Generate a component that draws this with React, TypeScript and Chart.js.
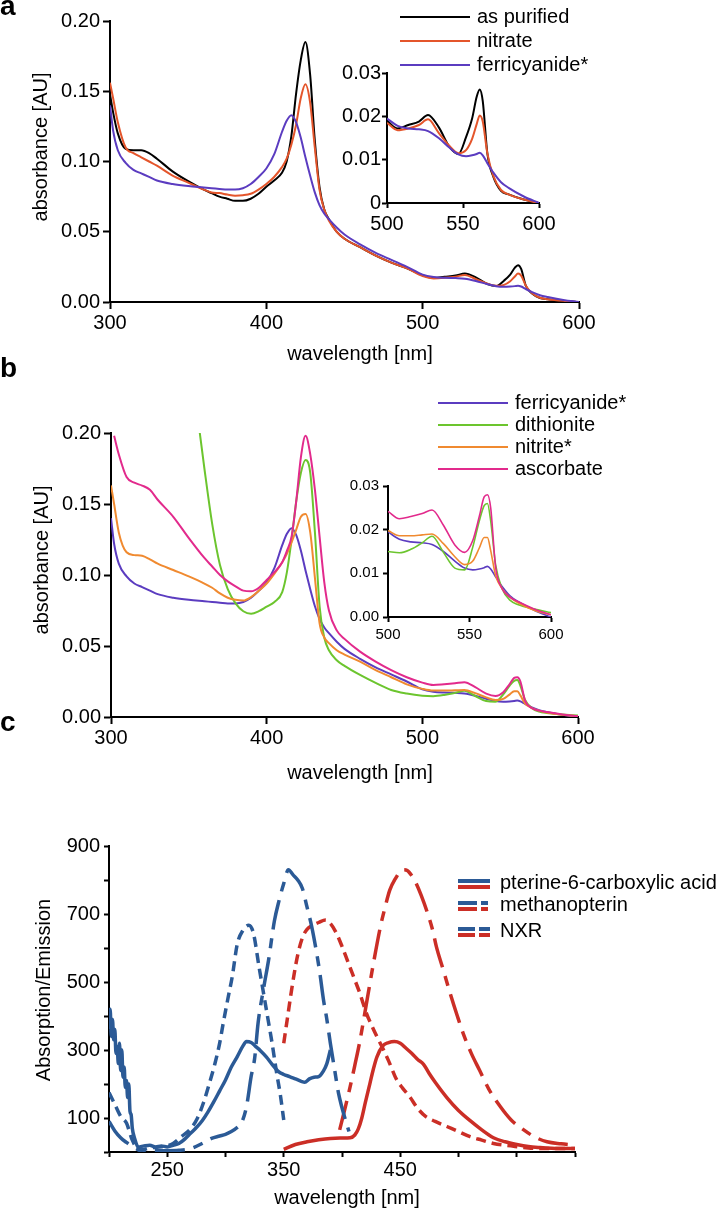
import React, { useEffect, useRef } from "react";
import { Chart, registerables } from "chart.js";
Chart.register(...registerables);

const FONT = "'Liberation Sans', Arial, Helvetica, sans-serif";

// ---------- Panels a & b : wavelength grid (nm) ----------
const WL_AB = [300, 302, 305, 310, 315, 320, 325, 330, 340, 350,
  360, 365, 370, 375, 380, 385, 390, 395, 400, 405,
  410, 413, 416, 419, 422, 425, 428, 431, 434, 437,
  440, 445, 450, 460, 470, 480, 490, 500, 507, 514,
  521, 527, 534, 541, 547, 552, 556, 559, 561, 563,
  566, 570, 575, 580, 590, 600];

// panel a
const A_AS_PURIFIED = [0.148, 0.135, 0.120, 0.109, 0.108, 0.108, 0.106, 0.102, 0.093, 0.086,
  0.080, 0.0775, 0.075, 0.0735, 0.072, 0.072, 0.0735, 0.077, 0.082, 0.0865,
  0.092, 0.100, 0.118, 0.148, 0.172, 0.185, 0.162, 0.115, 0.082, 0.066,
  0.059, 0.050, 0.045, 0.039, 0.033, 0.028, 0.024, 0.019, 0.0172, 0.018,
  0.0188, 0.0203, 0.0175, 0.013, 0.0113, 0.0152, 0.0195, 0.0245, 0.0262, 0.0235,
  0.0115, 0.006, 0.0028, 0.002, 0.0008, 0.0];
const A_NITRATE = [0.156, 0.145, 0.128, 0.110, 0.106, 0.103, 0.100, 0.097, 0.090, 0.085,
  0.080, 0.078, 0.0775, 0.0765, 0.0757, 0.076, 0.077, 0.080, 0.084, 0.089,
  0.096, 0.102, 0.112, 0.126, 0.145, 0.155, 0.142, 0.110, 0.080, 0.066,
  0.058, 0.050, 0.045, 0.039, 0.033, 0.028, 0.024, 0.0185, 0.0168, 0.0172,
  0.018, 0.0193, 0.0162, 0.0132, 0.0115, 0.0122, 0.0148, 0.0182, 0.0202, 0.0188,
  0.0115, 0.0062, 0.003, 0.002, 0.0008, 0.0];
// ferricyanide* (shown in a and b)
const FERRICYANIDE = [0.140, 0.122, 0.108, 0.099, 0.094, 0.0915, 0.089, 0.0865, 0.084, 0.0825,
  0.0815, 0.081, 0.0805, 0.080, 0.080, 0.081, 0.084, 0.089, 0.095, 0.105,
  0.121, 0.129, 0.133, 0.128, 0.117, 0.103, 0.090, 0.078, 0.069, 0.063,
  0.059, 0.053, 0.048, 0.041, 0.035, 0.030, 0.025, 0.0195, 0.0178, 0.0172,
  0.017, 0.0166, 0.015, 0.0128, 0.0112, 0.0108, 0.011, 0.0113, 0.0116, 0.011,
  0.0092, 0.007, 0.0048, 0.0035, 0.0015, 0.0];
// panel b
const B_DITHIONITE = [null, null, null, null, null, null, null, null, null, 0.26,
  0.175, 0.136, 0.107, 0.090, 0.080, 0.0745, 0.0727, 0.0745, 0.0777, 0.081,
  0.088, 0.102, 0.125, 0.152, 0.172, 0.181, 0.172, 0.130, 0.078, 0.056,
  0.047, 0.040, 0.036, 0.0296, 0.024, 0.019, 0.0165, 0.015, 0.0147, 0.0155,
  0.017, 0.0185, 0.0148, 0.0112, 0.0108, 0.016, 0.022, 0.0255, 0.026, 0.022,
  0.012, 0.0065, 0.0038, 0.0028, 0.0018, 0.001];
const B_NITRITE = [0.163, 0.150, 0.130, 0.116, 0.114, 0.1135, 0.111, 0.108, 0.1035, 0.099,
  0.094, 0.091, 0.087, 0.084, 0.0825, 0.082, 0.0845, 0.089, 0.094, 0.101,
  0.109, 0.115, 0.123, 0.132, 0.141, 0.143, 0.130, 0.098, 0.066, 0.056,
  0.052, 0.047, 0.044, 0.039, 0.033, 0.028, 0.023, 0.0198, 0.0186, 0.0186,
  0.0188, 0.019, 0.0168, 0.0138, 0.012, 0.0128, 0.0158, 0.0182, 0.0182, 0.0152,
  0.0095, 0.0065, 0.0045, 0.0032, 0.0015, 0.0005];
const B_ASCORBATE = [null, 0.198, 0.185, 0.169, 0.165, 0.163, 0.160, 0.153, 0.141, 0.126,
  0.112, 0.106, 0.100, 0.0955, 0.092, 0.089, 0.0885, 0.091, 0.0965, 0.102,
  0.109, 0.117, 0.127, 0.152, 0.183, 0.198, 0.185, 0.160, 0.127, 0.095,
  0.075, 0.061, 0.055, 0.046, 0.039, 0.033, 0.028, 0.0242, 0.0225, 0.023,
  0.0237, 0.0245, 0.021, 0.0165, 0.0148, 0.0175, 0.023, 0.0275, 0.028, 0.025,
  0.0115, 0.0065, 0.0045, 0.0035, 0.0018, 0.0005];

// ---------- Panel c ----------
const C_PT_ABS_WL = [200, 201, 202, 203, 204, 205, 206, 207, 208, 209, 210, 211, 212, 213, 214, 215, 216, 217, 218, 219, 220, 222, 225,
  230, 235, 240, 245, 250, 255, 260, 265, 270, 275, 280, 285, 290, 295, 300, 305, 310, 315,
  318, 322, 326, 330, 335, 340, 345, 350, 355, 360, 365, 368, 372, 376, 380, 384, 387, 390];
const C_PT_ABS = [360, 420, 340, 390, 330, 360, 290, 310, 260, 320, 240, 300, 220, 250, 190, 210, 160, 200, 120, 110, 70, 40, 15,
  18, 20, 15, 18, 15, 20, 25, 38, 55, 72, 92, 118, 148, 180, 212, 250, 280, 312,
  325, 322, 310, 298, 280, 258, 238, 228, 222, 215, 208, 205, 215, 220, 222, 238, 260, 300];
const C_MP_ABS_WL = [200, 205, 210, 215, 220, 225, 230, 240, 250, 260, 270, 280, 288, 295, 300, 305, 310, 314, 318,
  322, 325, 328, 333, 337, 342, 346, 350, 354, 358, 362, 366, 370, 374, 378, 381, 384, 387, 390, 394, 397, 400, 403, 406];
const C_MP_ABS = [90, 62, 42, 28, 16, 8, 5, 4, 4, 5, 10, 25, 40, 47, 52, 60, 72, 88, 133,
  222, 275, 380, 487, 565, 680, 740, 790, 830, 815, 800, 775, 720, 663, 590, 526, 450, 390, 320, 235, 173, 130, 94, 60];
const C_NXR_ABS_WL = [200, 205, 210, 215, 220, 226, 235, 245, 255, 262, 270, 276, 281, 286, 291, 295,
  298, 302, 306, 310, 315, 320, 324, 329, 333, 336, 340, 344, 347, 350];
const C_NXR_ABS = [175, 140, 105, 85, 35, 5, 12, 15, 25, 45, 68, 100, 144, 200, 261, 320,
  378, 450, 520, 610, 652, 667, 643, 540, 460, 400, 320, 230, 170, 94];
const C_PT_EM_WL = [350, 360, 370, 380, 390, 400, 407, 411, 414, 417, 420, 424, 427, 430, 435, 440, 445, 450, 455, 460, 465, 470, 475, 480,
  490, 500, 510, 520, 530, 540, 550, 560, 570, 580, 590, 600];
const C_PT_EM = [8, 22, 30, 36, 40, 41, 42, 50, 68, 100, 145, 202, 245, 280, 312, 322, 325, 320, 305, 290, 272, 258, 230, 205,
  160, 122, 92, 65, 42, 30, 22, 16, 13, 11, 10, 10];
const C_NXR_EM_WL = [350, 353, 356, 359, 362, 366, 370, 375, 380, 386, 390, 395, 400, 405, 410, 415, 421, 426, 430, 435, 440, 447,
  452, 458, 465, 472, 480, 490, 500, 510, 520, 530, 545, 560, 580, 600];
const C_NXR_EM = [320, 390, 460, 525, 580, 630, 655, 667, 675, 682, 672, 645, 605, 560, 515, 470, 408, 368, 339, 305, 268, 212,
  188, 163, 128, 104, 90, 75, 60, 45, 35, 25, 18, 12, 10, 10];
const C_MP_EM_WL = [398, 402, 407, 411, 415, 421, 427, 433, 437, 441, 446, 450, 453, 456, 460, 463, 468, 473, 478, 481, 487, 493,
  499, 504, 511, 518, 526, 536, 545, 556, 565, 576, 588, 600];
const C_MP_EM = [65, 120, 192, 255, 320, 437, 555, 663, 720, 770, 805, 825, 830, 828, 812, 795, 755, 707, 650, 604, 535, 465,
  400, 349, 290, 241, 185, 133, 95, 65, 45, 30, 24, 20];

const C_X_LABELS = [250, 350, 450];
const C_Y_LABELS = [100, 300, 500, 700, 900];

const A_LEGEND = ["as purified", "nitrate", "ferricyanide*"];
const B_LEGEND = ["ferricyanide*", "dithionite", "nitrite*", "ascorbate"];
const C_LEGEND = ["pterine-6-carboxylic acid", "methanopterin", "NXR"];

// ---------- styles ----------
const COL_BLACK = "#000000";
const COL_NITRATE = "#e4552b";
const COL_FERRI = "#5b3cc0";
const COL_DITHIO = "#6cc52e";
const COL_NITRITE = "#f08a30";
const COL_ASCORB = "#e22a8c";
const COL_BLUE = "#2b5a96";
const COL_RED = "#cb2e26";
const DASH_DOT = [30, 9, 10, 9];
const DASHED = [10, 6];

function pts(xs: number[], ys: (number | null)[], minX = -Infinity) {
  const out: any[] = [];
  xs.forEach((x, i) => { if (x >= minX) out.push({ x, y: ys[i] }); });
  return out;
}

function line(data: any[], color: string, width: number, dash: number[] = [], order = 0) {
  return {
    data, borderColor: color, borderWidth: width, borderDash: dash,
    pointRadius: 0, fill: false, cubicInterpolationMode: "monotone", spanGaps: false, order,
  };
}

type Spec = {
  left: number; top: number; width: number; height: number;
  area: [number, number, number, number];
  x: { min: number; max: number; step: number; fmt?: (v: number) => string };
  y: { min: number; max: number; step: number; fmt?: (v: number) => string };
  font: number; tickLen: number; xPad: number; yPad: number; axisWidth: number;
  datasets: any[];
};

function buildConfig(s: Spec): any {
  const [l, t, r, b] = s.area;
  const axisCommon = (tickFmt: any, pad: number, step: number) => ({
    type: "linear",
    ticks: {
      stepSize: step, autoSkip: false, maxRotation: 0, padding: pad, color: "#000",
      font: { family: FONT, size: s.font },
      callback: tickFmt,
    },
    grid: { display: true, drawOnChartArea: false, drawTicks: true, tickLength: s.tickLen, tickWidth: s.axisWidth, tickColor: "#000" },
    border: { display: true, color: "#000", width: s.axisWidth },
  });
  const xAxis: any = axisCommon((v: number) => (s.x.fmt ? s.x.fmt(v) : String(v)), s.xPad, s.x.step);
  xAxis.min = s.x.min; xAxis.max = s.x.max;
  xAxis.afterFit = (ax: any) => { ax.height = s.top + s.height - b; };
  const yAxis: any = axisCommon((v: number) => (s.y.fmt ? s.y.fmt(v) : String(v)), s.yPad, s.y.step);
  yAxis.min = s.y.min; yAxis.max = s.y.max;
  yAxis.afterFit = (ax: any) => { ax.width = l - s.left; };
  return {
    type: "line",
    data: { datasets: s.datasets },
    options: {
      animation: false, responsive: false, maintainAspectRatio: false, devicePixelRatio: 1,
      layout: { padding: { left: 0, top: t - s.top, right: s.left + s.width - r, bottom: 0 } },
      plugins: { legend: { display: false }, tooltip: { enabled: false }, title: { display: false } },
      events: [],
      scales: { x: xAxis, y: yAxis },
    },
  };
}

function ChartBox({ spec }: { spec: Spec }) {
  const ref = useRef<HTMLCanvasElement>(null);
  useEffect(() => {
    const chart = new Chart(ref.current as HTMLCanvasElement, buildConfig(spec));
    return () => chart.destroy();
  }, []);
  return (
    <canvas ref={ref} width={spec.width} height={spec.height}
      style={{ position: "absolute", left: spec.left, top: spec.top, width: spec.width, height: spec.height }} />
  );
}

const f2 = (v: number) => v.toFixed(2);
const fInsetA = (v: number) => (Math.abs(v) < 1e-9 ? "0" : v.toFixed(2));

const SPEC_A: Spec = {
  left: 0, top: 0, width: 600, height: 372, area: [110, 21, 579, 302],
  x: { min: 300, max: 600, step: 100 }, y: { min: 0, max: 0.2, step: 0.05, fmt: f2 },
  font: 20, tickLen: 7, xPad: 2, yPad: 3, axisWidth: 2,
  datasets: [
    line(pts(WL_AB, A_AS_PURIFIED), COL_BLACK, 2, [], 2),
    line(pts(WL_AB, A_NITRATE), COL_NITRATE, 2, [], 1),
    line(pts(WL_AB, FERRICYANIDE), COL_FERRI, 2, [], 0),
  ],
};
const SPEC_A_INSET: Spec = {
  left: 320, top: 60, width: 240, height: 190, area: [387, 73, 539, 203],
  x: { min: 500, max: 600, step: 50 }, y: { min: 0, max: 0.03, step: 0.01, fmt: fInsetA },
  font: 20, tickLen: 5, xPad: 4, yPad: 1, axisWidth: 2,
  datasets: [
    line(pts(WL_AB, A_AS_PURIFIED, 500), COL_BLACK, 2, [], 2),
    line(pts(WL_AB, A_NITRATE, 500), COL_NITRATE, 2, [], 1),
    line(pts(WL_AB, FERRICYANIDE, 500), COL_FERRI, 2, [], 0),
  ],
};
const SPEC_B: Spec = {
  left: 0, top: 400, width: 600, height: 400, area: [111, 433, 578, 717],
  x: { min: 300, max: 600, step: 100 }, y: { min: 0, max: 0.2, step: 0.05, fmt: f2 },
  font: 20, tickLen: 7, xPad: 2, yPad: 3, axisWidth: 2,
  datasets: [
    line(pts(WL_AB, FERRICYANIDE), COL_FERRI, 2, [], 3),
    line(pts(WL_AB, B_DITHIONITE), COL_DITHIO, 2, [], 2),
    line(pts(WL_AB, B_NITRITE), COL_NITRITE, 2, [], 1),
    line(pts(WL_AB, B_ASCORBATE), COL_ASCORB, 2, [], 0),
  ],
};
const SPEC_B_INSET: Spec = {
  left: 330, top: 470, width: 240, height: 180, area: [388, 486, 551, 617],
  x: { min: 500, max: 600, step: 50 }, y: { min: 0, max: 0.03, step: 0.01, fmt: f2 },
  font: 15, tickLen: 5, xPad: 4, yPad: 4, axisWidth: 2,
  datasets: [
    line(pts(WL_AB, FERRICYANIDE, 500), COL_FERRI, 1.6, [], 3),
    line(pts(WL_AB, B_DITHIONITE, 500), COL_DITHIO, 1.6, [], 2),
    line(pts(WL_AB, B_NITRITE, 500), COL_NITRITE, 1.6, [], 1),
    line(pts(WL_AB, B_ASCORBATE, 500), COL_ASCORB, 1.6, [], 0),
  ],
};
const SPEC_C: Spec = {
  left: 0, top: 826, width: 600, height: 383, area: [109, 846, 575, 1152],
  x: { min: 200, max: 600, step: 50, fmt: (v) => (C_X_LABELS.includes(v) ? String(v) : "") },
  y: { min: 0, max: 900, step: 100, fmt: (v) => (C_Y_LABELS.includes(v) ? String(v) : "") },
  font: 20, tickLen: 5, xPad: 1, yPad: 4, axisWidth: 2,
  datasets: [
    line(pts(C_PT_ABS_WL, C_PT_ABS), COL_BLUE, 3.5, []),
    line(pts(C_MP_ABS_WL, C_MP_ABS), COL_BLUE, 3.5, DASH_DOT),
    line(pts(C_NXR_ABS_WL, C_NXR_ABS), COL_BLUE, 3.5, DASHED),
    line(pts(C_PT_EM_WL, C_PT_EM), COL_RED, 3.5, []),
    line(pts(C_MP_EM_WL, C_MP_EM), COL_RED, 3.5, DASH_DOT),
    line(pts(C_NXR_EM_WL, C_NXR_EM), COL_RED, 3.5, DASHED),
  ],
};

const txt: React.CSSProperties = { position: "absolute", fontFamily: FONT, fontSize: 20, color: "#000", whiteSpace: "nowrap", lineHeight: "20px" };

function XTitle({ cx, cy, children }: any) {
  return <div style={{ ...txt, left: cx, top: cy, transform: "translate(-50%, -50%)" }}>{children}</div>;
}
function YTitle({ cx, cy, children }: any) {
  return <div style={{ ...txt, left: cx, top: cy, transform: "translate(-50%, -50%) rotate(-90deg)" }}>{children}</div>;
}
function PanelLetter({ x, y, children }: any) {
  return <div style={{ position: "absolute", left: x, top: y, fontFamily: FONT, fontWeight: "bold", fontSize: 28, lineHeight: "28px", color: "#000" }}>{children}</div>;
}
function Bar({ x1, x2, y, h, color }: any) {
  return <div style={{ position: "absolute", left: x1, top: y - h / 2, width: x2 - x1, height: h, background: color }} />;
}

function SimpleLegend({ labels, colors, x1, x2, tx, ys }: any) {
  return (
    <>
      {labels.map((lab: string, i: number) => (
        <React.Fragment key={lab}>
          <Bar x1={x1} x2={x2} y={ys[i]} h={2} color={colors[i]} />
          <div style={{ ...txt, left: tx, top: ys[i] - 11 }}>{lab}</div>
        </React.Fragment>
      ))}
    </>
  );
}

function LegendC() {
  const rows = [
    { y: 884, segs: [[458, 490]] },
    { y: 906, segs: [[458, 477], [481, 488]] },
    { y: 932, segs: [[458, 475], [479, 490]] },
  ];
  return (
    <>
      {rows.map((r, i) => (
        <React.Fragment key={i}>
          {r.segs.map((s, j) => (
            <React.Fragment key={j}>
              <Bar x1={s[0]} x2={s[1]} y={r.y - 3} h={4} color={COL_BLUE} />
              <Bar x1={s[0]} x2={s[1]} y={r.y + 3} h={4} color={COL_RED} />
            </React.Fragment>
          ))}
          <div style={{ ...txt, left: 500, top: r.y - 12 }}>{C_LEGEND[i]}</div>
        </React.Fragment>
      ))}
    </>
  );
}

export default function App() {
  return (
    <div style={{ position: "absolute", left: 0, top: 0, width: 724, height: 1209, background: "#fff", overflow: "hidden" }}>
      <ChartBox spec={SPEC_A} />
      <ChartBox spec={SPEC_A_INSET} />
      <ChartBox spec={SPEC_B} />
      <ChartBox spec={SPEC_B_INSET} />
      <ChartBox spec={SPEC_C} />

      <PanelLetter x={0} y={-8}>a</PanelLetter>
      <PanelLetter x={0} y={354}>b</PanelLetter>
      <PanelLetter x={0} y={708}>c</PanelLetter>

      <YTitle cx={40} cy={147}>absorbance [AU]</YTitle>
      <XTitle cx={360} cy={353}>wavelength [nm]</XTitle>
      <YTitle cx={41} cy={560}>absorbance [AU]</YTitle>
      <XTitle cx={360} cy={772}>wavelength [nm]</XTitle>
      <YTitle cx={43} cy={990}>Absorption/Emission</YTitle>
      <XTitle cx={347} cy={1197}>wavelength [nm]</XTitle>

      <SimpleLegend labels={A_LEGEND} colors={[COL_BLACK, COL_NITRATE, COL_FERRI]} x1={400} x2={470} tx={477} ys={[17, 41, 65]} />
      <SimpleLegend labels={B_LEGEND} colors={[COL_FERRI, COL_DITHIO, COL_NITRITE, COL_ASCORB]} x1={438} x2={508} tx={515} ys={[403, 425, 447, 469]} />
      <LegendC />
    </div>
  );
}
